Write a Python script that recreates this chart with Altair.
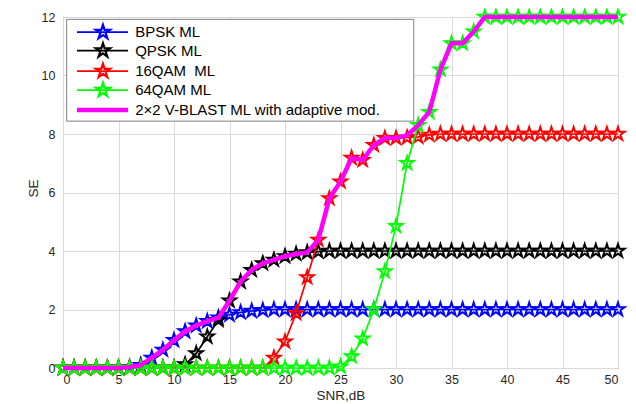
import altair as alt
import pandas as pd

# ---------------- data ----------------
snr = list(range(0, 51))

bpsk = [0, 0, 0, 0, 0, 0, 0.03, 0.1, 0.35, 0.62,
        0.95, 1.25, 1.45, 1.6, 1.72, 1.82, 1.9, 1.95, 1.98, 2.0,
        2.0, 2.0, 2.0, 2.0, 2.0, 2.0, 2.0, 2.0, 2.0, 2.0,
        2.0, 2.0, 2.0, 2.0, 2.0, 2.0, 2.0, 2.0, 2.0, 2.0,
        2.0, 2.0, 2.0, 2.0, 2.0, 2.0, 2.0, 2.0, 2.0, 2.0, 2.0]

qpsk = [0, 0, 0, 0, 0, 0, 0, 0, 0, 0,
        0, 0.12, 0.5, 1.07, 1.64, 2.3, 2.95, 3.35, 3.58, 3.7,
        3.82, 3.9, 3.95, 3.98, 4.0, 4.0, 4.0, 4.0, 4.0, 4.0,
        4.0, 4.0, 4.0, 4.0, 4.0, 4.0, 4.0, 4.0, 4.0, 4.0,
        4.0, 4.0, 4.0, 4.0, 4.0, 4.0, 4.0, 4.0, 4.0, 4.0, 4.0]

qam16 = [0, 0, 0, 0, 0, 0, 0, 0, 0, 0,
         0, 0, 0, 0, 0, 0, 0, 0, 0, 0.35,
         0.9, 1.87, 3.1, 4.38, 5.8, 6.37, 7.18, 7.11, 7.62, 7.86,
         7.86, 7.88, 7.9, 7.97, 8.0, 8.0, 8.0, 8.0, 8.0, 8.0,
         8.0, 8.0, 8.0, 8.0, 8.0, 8.0, 8.0, 8.0, 8.0, 8.0, 8.0]

qam64 = [0, 0, 0, 0, 0, 0, 0, 0, 0, 0,
         0, 0, 0, 0, 0, 0, 0, 0, 0, 0,
         0, 0, 0, 0, 0, 0.05, 0.4, 1.0, 2.0, 3.3,
         4.85, 7.0, 8.3, 8.75, 10.2, 11.1, 11.1, 11.5, 12.0, 12.0,
         12.0, 12.0, 12.0, 12.0, 12.0, 12.0, 12.0, 12.0, 12.0, 12.0, 12.0]

adaptive = [0, 0, 0, 0, 0, 0, 0.03, 0.1, 0.35, 0.62,
            0.95, 1.25, 1.45, 1.6, 1.72, 2.3, 2.95, 3.35, 3.58, 3.7,
            3.82, 3.9, 3.95, 4.38, 5.8, 6.37, 7.18, 7.11, 7.62, 7.86,
            7.86, 7.95, 8.3, 8.75, 10.2, 11.1, 11.1, 11.5, 12.0, 12.0,
            12.0, 12.0, 12.0, 12.0, 12.0, 12.0, 12.0, 12.0, 12.0, 12.0, 12.0]

series_names = ["BPSK ML", "QPSK ML", "16QAM\u00a0 ML", "64QAM ML",
                "2\u00d72 V-BLAST ML with adaptive mod."]
series_values = [bpsk, qpsk, qam16, qam64, adaptive]
series_colors = ["#0000ff", "#000000", "#ff0000", "#00ff00", "#ff00ff"]
series_has_marker = [True, True, True, True, False]

x_ticks = [0, 5, 10, 15, 20, 25, 30, 35, 40, 45, 50]
y_ticks = [0, 2, 4, 6, 8, 10, 12]

# legend placement (in data units)
legend_rows_y = [11.48, 10.85, 10.15, 9.5, 8.82]
legend_box = {"x0": 0.33, "x1": 31.6, "y0": 8.44, "y1": 11.92}
legend_line = (1.26, 5.86)
legend_star_x = 3.6
legend_text_x = 6.5

STAR = ("M0,-1L0.2245,-0.309L0.951,-0.309L0.363,0.118L0.588,0.809L0,0.382"
        "L-0.588,0.809L-0.363,0.118L-0.951,-0.309L-0.2245,-0.309Z")

FONT = "Liberation Sans"

x_scale = alt.Scale(domain=[0, 50], nice=False, zero=False)
y_scale = alt.Scale(domain=[0, 12], nice=False, zero=False)
x_axis = alt.Axis(values=x_ticks, title="SNR,dB", grid=True, titleY=31,
                  titleBaseline="alphabetic", labelPadding=5)
y_axis = alt.Axis(values=y_ticks, title="SE", grid=True, titleX=-30, titleY=171,
                  titleAngle=270, titleBaseline="middle", labelPadding=8)


def xenc(field):
    return alt.X(field, type="quantitative", scale=x_scale, axis=x_axis)


def yenc(field):
    return alt.Y(field, type="quantitative", scale=y_scale, axis=y_axis)


layers = []
for name, vals, col, mk in zip(series_names, series_values, series_colors, series_has_marker):
    df = pd.DataFrame({"snr": snr, "se": vals})
    sw = 4.5 if not mk else 1.7
    layers.append(
        alt.Chart(df).mark_line(color=col, strokeWidth=sw, clip=False).encode(
            x=xenc("snr"), y=yenc("se"))
    )
    if mk:
        layers.append(
            alt.Chart(df).mark_point(shape=STAR, size=190, filled=False, color=col,
                                     strokeWidth=2.0, opacity=1, clip=False).encode(
                x=xenc("snr"), y=yenc("se"))
        )

# ---------------- legend ----------------
box_df = pd.DataFrame([legend_box])
layers.append(
    alt.Chart(box_df).mark_rect(fill="white", stroke="#808080", strokeWidth=1).encode(
        x=xenc("x0"), x2="x1", y=yenc("y0"), y2="y1")
)
for name, col, mk, ly in zip(series_names, series_colors, series_has_marker, legend_rows_y):
    ldf = pd.DataFrame({"lx0": [legend_line[0]], "lx1": [legend_line[1]], "ly": [ly],
                        "sx": [legend_star_x], "tx": [legend_text_x], "label": [name]})
    layers.append(
        alt.Chart(ldf).mark_rule(color=col, strokeWidth=(1.8 if mk else 4.5)).encode(
            x=xenc("lx0"), x2="lx1", y=yenc("ly"))
    )
    if mk:
        layers.append(
            alt.Chart(ldf).mark_point(shape=STAR, size=220, filled=False, color=col,
                                      strokeWidth=2.2, opacity=1).encode(
                x=xenc("sx"), y=yenc("ly"))
        )
    layers.append(
        alt.Chart(ldf).mark_text(align="left", baseline="middle", font=FONT,
                                 fontSize=15, color="#000000").encode(
            x=xenc("tx"), y=yenc("ly"), text="label:N")
    )

chart = alt.layer(*layers).properties(
    width=555, height=351,
    padding={"left": 55, "top": 9, "right": 10, "bottom": 35},
    autosize=alt.AutoSizeParams(type="none"),
    background="white",
).configure_view(
    stroke="#303030", strokeWidth=1
).configure_axis(
    labelFont=FONT, labelFontSize=12.5, labelColor="#262626",
    titleFont=FONT, titleFontSize=13.5, titleFontWeight="normal", titleColor="#262626",
    gridColor="#dadada", gridWidth=1, gridOpacity=1,
    domain=False, ticks=False,
)

chart.save("out.html", embed_options={"renderer": "svg", "actions": False})
